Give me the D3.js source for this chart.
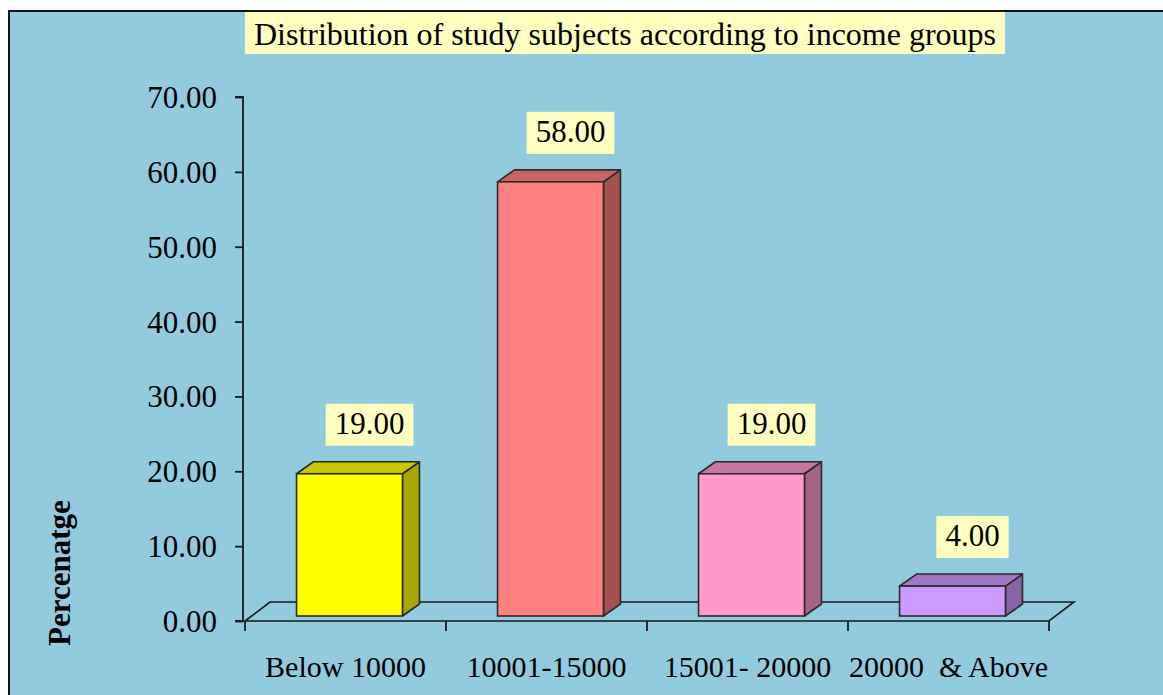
<!DOCTYPE html>
<html>
<head>
<meta charset="utf-8">
<script src="https://cdn.jsdelivr.net/npm/d3@7"></script>
<style>
  html, body { margin: 0; padding: 0; background: #ffffff; }
  svg { display: block; }
  text { font-family: "Liberation Serif", "Times New Roman", serif; fill: #000; }
</style>
</head>
<body>
<script>
// Income groups and the share of study subjects in each (percent)
const categories = ["Below 10000", "10001-15000", "15001- 20000", "20000  & Above"];
const values = [19.00, 58.00, 19.00, 4.00];
const yTicks = [0, 10, 20, 30, 40, 50, 60, 70];
const chartTitle = "Distribution of study subjects according to income groups";
const yTitle = "Percenatge";

// Face colours per bar: front, top, side
const palette = [
  { front: "#ffff00", top: "#c8c800", side: "#a6a600" },
  { front: "#ff8080", top: "#c86464", side: "#a65050" },
  { front: "#ff99cc", top: "#c878a0", side: "#a66485" },
  { front: "#cc99ff", top: "#a078c8", side: "#8664a6" }
];

const W = 1163, H = 695;
const svg = d3.select("body").append("svg").attr("width", W).attr("height", H);

// Chart area background with border
svg.append("rect").attr("x", 9).attr("y", 11).attr("width", W + 20).attr("height", H + 20)
  .attr("fill", "#92cbdd").attr("stroke", "#111").attr("stroke-width", 2);

// Plot geometry
const x0 = 245, x1 = 1049, yBase = 621, yTop = 97;
const floorDx = 25, floorDy = -19;        // floor depth
const barOffX = 4, barOffY = -5;          // bar front inset on the floor
const barDx = 17, barDy = -12;            // bar depth

const y = d3.scaleLinear().domain([0, 70]).range([yBase, yTop]);
const x = d3.scaleBand().domain(categories).range([x0, x1]).padding(0);
const barW = x.bandwidth() * 0.527;

// Floor parallelogram
svg.append("path")
  .attr("d", `M${x0},${yBase} L${x0 + floorDx},${yBase + floorDy} L${x1 + floorDx},${yBase + floorDy} L${x1},${yBase} Z`)
  .attr("fill", "none").attr("stroke", "#1a1a1a").attr("stroke-width", 1.6);

// Y axis
const yAxis = d3.axisLeft(y).tickValues(yTicks).tickSize(8).tickFormat(d3.format(".2f"));
const gy = svg.append("g").attr("transform", `translate(${x0 - 2},0)`).call(yAxis);
gy.select(".domain").attr("stroke", "#1a1a1a").attr("stroke-width", 1.8).attr("d", `M-8,${yTop}H0V${yBase}H-8`);
gy.selectAll(".tick line").attr("stroke", "#1a1a1a").attr("stroke-width", 1.8);
gy.selectAll(".tick text").attr("x", -26).attr("dy", "0.34em")
  .style("font-family", "'Liberation Serif', serif").style("font-size", "31px").attr("fill", "#000");

// X axis: ticks at category boundaries, labels at band centres
const bounds = categories.map(c => x(c)).concat([x1]);
svg.selectAll("line.xtick").data(bounds).enter().append("line")
  .attr("class", "xtick")
  .attr("x1", d => d).attr("x2", d => d)
  .attr("y1", yBase).attr("y2", yBase + 10)
  .attr("stroke", "#1a1a1a").attr("stroke-width", 1.8);
svg.selectAll("text.xlabel").data(categories).enter().append("text")
  .attr("class", "xlabel")
  .attr("x", d => x(d) + x.bandwidth() / 2)
  .attr("y", 677)
  .attr("text-anchor", "middle")
  .style("font-size", "30px")
  .style("white-space", "pre")
  .attr("xml:space", "preserve")
  .text(d => d);

// 3D bars
const bars = svg.selectAll("g.bar").data(values).enter().append("g").attr("class", "bar");
bars.each(function (v, i) {
  const g = d3.select(this);
  const c = palette[i];
  const bx = x(categories[i]) + (x.bandwidth() - barW) / 2 + barOffX;
  const by0 = y(0) + barOffY;
  const by1 = y(v) + barOffY;
  const sw = 1.6, sc = "#2a2a2a";
  // side face
  g.append("path")
    .attr("d", `M${bx + barW},${by1} L${bx + barW + barDx},${by1 + barDy} L${bx + barW + barDx},${by0 + barDy} L${bx + barW},${by0} Z`)
    .attr("fill", c.side).attr("stroke", sc).attr("stroke-width", sw).attr("stroke-linejoin", "round");
  // top face
  g.append("path")
    .attr("d", `M${bx},${by1} L${bx + barDx},${by1 + barDy} L${bx + barW + barDx},${by1 + barDy} L${bx + barW},${by1} Z`)
    .attr("fill", c.top).attr("stroke", sc).attr("stroke-width", sw).attr("stroke-linejoin", "round");
  // front face
  g.append("rect")
    .attr("x", bx).attr("y", by1).attr("width", barW).attr("height", by0 - by1)
    .attr("fill", c.front).attr("stroke", sc).attr("stroke-width", sw);

  // value label in a pale yellow box
  const cx = bx + barW / 2 + 20;
  const boxBottom = by1 + barDy - 16;
  const lbl = g.append("g");
  const t = lbl.append("text")
    .attr("x", cx).attr("y", boxBottom - 12)
    .attr("text-anchor", "middle")
    .style("font-size", "31px")
    .text(d3.format(".2f")(v));
  const bb = t.node().getBBox();
  lbl.insert("rect", "text")
    .attr("x", bb.x - 9).attr("width", bb.width + 18)
    .attr("y", boxBottom - 42).attr("height", 42)
    .attr("fill", "#ffffc0");
});

// Title box
const titleG = svg.append("g");
const tt = titleG.append("text")
  .attr("x", 625).attr("y", 45)
  .attr("text-anchor", "middle")
  .style("font-size", "32px")
  .text(chartTitle);
const tb = tt.node().getBBox();
titleG.insert("rect", "text")
  .attr("x", tb.x - 9).attr("width", tb.width + 18)
  .attr("y", 12).attr("height", 42)
  .attr("fill", "#ffffc0");

// Y axis title
svg.append("text")
  .attr("transform", "translate(70,573) rotate(-90)")
  .attr("text-anchor", "middle")
  .style("font-size", "31px")
  .style("font-weight", "bold")
  .text(yTitle);
</script>
</body>
</html>
